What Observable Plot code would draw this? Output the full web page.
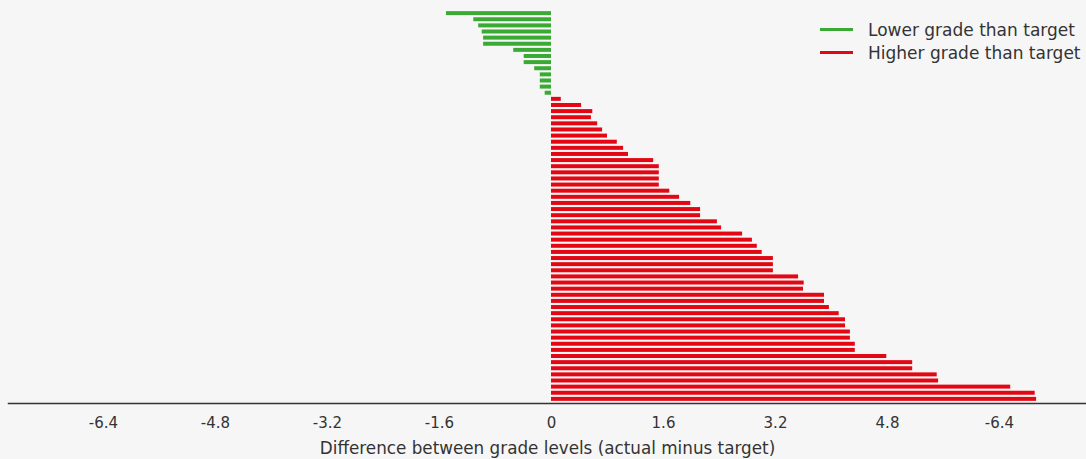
<!DOCTYPE html>
<html>
<head>
<meta charset="utf-8">
<script src="https://cdn.jsdelivr.net/npm/d3@7"></script>
<script src="https://cdn.jsdelivr.net/npm/@observablehq/plot@0.6"></script>
<style>
  html, body { margin: 0; padding: 0; background: #f6f6f6; }
  #wrap { position: relative; width: 1086px; height: 459px; font-family: "DejaVu Sans", sans-serif; }
  .legend { position: absolute; left: 820px; top: 18px; color: #333; font-size: 17px; white-space: nowrap; }
  .legend .item { display: flex; align-items: center; height: 23px; }
  .legend .sw { width: 33px; height: 3px; margin-right: 15px; }
  g[aria-label="x-axis label"] text { font-size: 16.8px; }
</style>
</head>
<body>
<div id="wrap"></div>
<script>
// Difference between grade levels (actual minus target), one value per row, top to bottom
const lowerValues = [-1.5, -1.11, -1.04, -0.99, -0.97, -0.97, -0.54, -0.39, -0.39, -0.24, -0.16, -0.16, -0.16, -0.09];
const higherValues = [0.14, 0.43, 0.59, 0.57, 0.66, 0.73, 0.8, 0.94, 1.03, 1.1, 1.46, 1.54, 1.54, 1.54, 1.54, 1.69, 1.83,
  1.99, 2.13, 2.13, 2.37, 2.43, 2.73, 2.87, 2.94, 3.01, 3.17, 3.17, 3.17, 3.53, 3.61, 3.6, 3.9,
  3.9, 3.97, 4.11, 4.2, 4.2, 4.27, 4.27, 4.34, 4.34, 4.79, 5.16, 5.16, 5.51, 5.53, 6.56, 6.91, 6.93];
const seriesNames = ["Lower grade than target", "Higher grade than target"];
const seriesColors = ["#3aaa35", "#e30613"];
const tickValues = [-6.4, -4.8, -3.2, -1.6, 0, 1.6, 3.2, 4.8, 6.4];
const tickLabels = ["-6.4", "-4.8", "-3.2", "-1.6", "0", "1.6", "3.2", "4.8", "-6.4"];
const xLabel = "Difference between grade levels (actual minus target)";

const rows = [
  ...lowerValues.map(v => ({value: v, series: seriesNames[0]})),
  ...higherValues.map(v => ({value: v, series: seriesNames[1]}))
].map((d, i) => ({...d, row: i}));

const chart = Plot.plot({
  width: 1086,
  height: 459,
  marginLeft: 8,
  marginRight: 0,
  marginTop: 9,
  marginBottom: 56,
  style: {background: "#f6f6f6", fontFamily: "'DejaVu Sans', sans-serif", fontSize: "15px", color: "#333"},
  x: {domain: [-7.757, 7.643]},
  y: {domain: rows.map(d => d.row), padding: 0.35, round: false, axis: null},
  color: {domain: seriesNames, range: seriesColors},
  marks: [
    Plot.barX(rows, {x: "value", y: "row", fill: "series"}),
    Plot.frame({anchor: "bottom", stroke: "#333", strokeWidth: 1.5}),
    Plot.axisX({
      ticks: tickValues,
      tickFormat: (d, i) => tickLabels[i],
      tickSize: 0,
      tickPadding: 14,
      fontSize: 15,
      label: xLabel,
      labelAnchor: "center",
      labelArrow: "none",
      labelOffset: 50
    })
  ]
});

const wrap = document.getElementById("wrap");
wrap.appendChild(chart);
const legend = document.createElement("div");
legend.className = "legend";
seriesNames.forEach((name, i) => {
  const item = document.createElement("div");
  item.className = "item";
  item.innerHTML = `<span class="sw" style="background:${seriesColors[i]}"></span><span>${name}</span>`;
  legend.appendChild(item);
});
wrap.appendChild(legend);
</script>
</body>
</html>
